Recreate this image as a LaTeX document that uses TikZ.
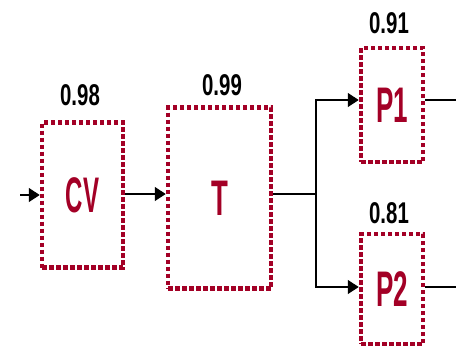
\documentclass[tikz,border=0pt]{standalone}
\usepackage{fontspec}
\setmainfont{Liberation Sans}
\usetikzlibrary{arrows.meta}
\definecolor{blockred}{RGB}{163,0,38}
\tikzset{
  block/.style={draw=blockred, line width=4.5pt, dash pattern=on 4.5pt off 2.5pt,
    text=blockred, font=\bfseries\fontsize{50}{50}\selectfont, inner sep=0pt},
  prob/.style={font=\bfseries\fontsize{30}{30}\selectfont, xscale=.68, inner sep=0pt},
  conn/.style={line width=1.3pt},
  arr/.style={conn, -{Triangle[length=11pt,width=14pt]}}
}
\begin{document}
\begin{tikzpicture}[x=1pt,y=-1pt]
	\useasboundingbox (0,0) rectangle (456,354);

	% blocks
	\node[block, minimum width=81pt, minimum height=145pt] (cv) at (82.5,195){\scalebox{.48}[1]{CV}};
	\node[block, minimum width=103pt, minimum height=181pt] (t) at (219.5,198){\scalebox{.55}[1]{T}};
	\node[block, minimum width=62pt, minimum height=114pt] (p1) at (392,105){\scalebox{.52}[1]{P1}};
	\node[block, minimum width=62pt, minimum height=110pt] (p2) at (392,289){\scalebox{.52}[1]{P2}};

	% reliabilities
	\node[prob] (rcv) at (80,95){0.98};
	\node[prob] (rt) at (222,85){0.99};
	\node[prob] (rp1) at (389,23){0.91};
	\node[prob] (rp2) at (389,213){0.81};

	% connectors
	\coordinate (in) at (20,195);
	\coordinate (split) at (316,194);
	\coordinate (out1) at (456,100);
	\coordinate (out2) at (456,287);

	\draw[arr] (in) -- (cv.west);
	\draw[arr] (cv.east |- 0,194) -- (t.west |- 0,194);
	\draw[conn] (t.east |- split) -- (split);
	\draw[arr] (split) |- (p1.west |- out1);
	\draw[arr] (split) |- (p2.west |- out2);
	\draw[conn] (p1.east |- out1) -- (out1);
	\draw[conn] (p2.east |- out2) -- (out2);
\end{tikzpicture}
\end{document}
